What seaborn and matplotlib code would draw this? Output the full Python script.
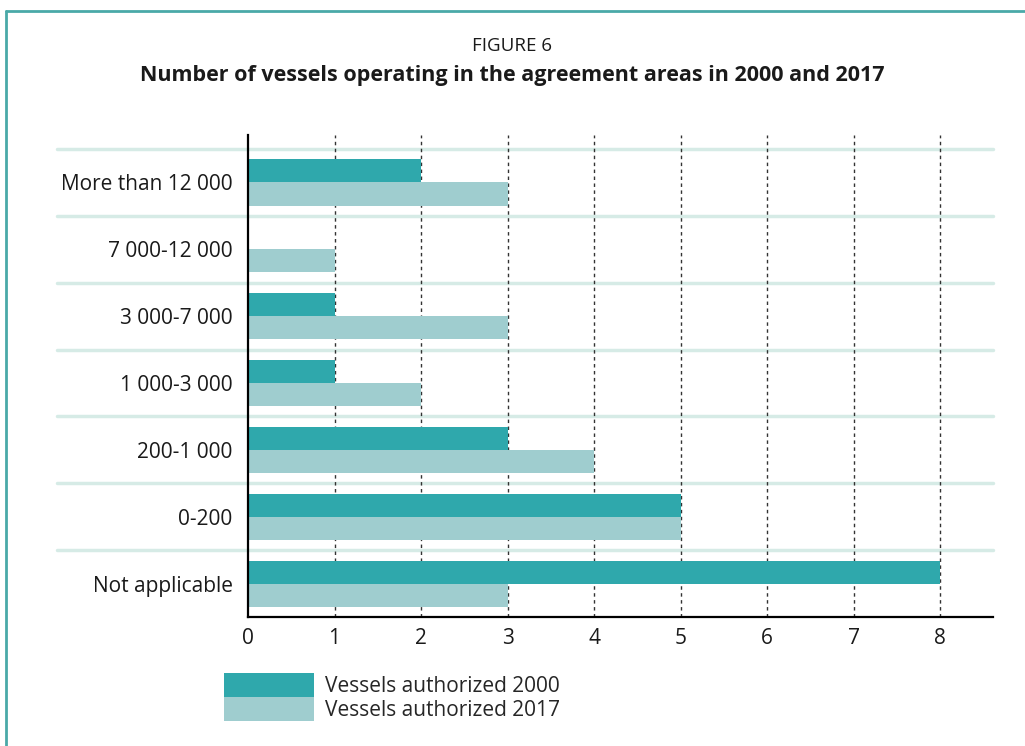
import matplotlib
matplotlib.use("Agg")
import matplotlib.pyplot as plt
from matplotlib.lines import Line2D
from matplotlib.patches import Patch
import seaborn as sns
import pandas as pd

sns.set_theme(style="white")
plt.rcParams["font.family"] = ["Open Sans", "DejaVu Sans"]

categories = ["More than 12 000", "7 000-12 000", "3 000-7 000", "1 000-3 000",
              "200-1 000", "0-200", "Not applicable"]
vessels_2000 = [2, 0, 1, 1, 3, 5, 8]
vessels_2017 = [3, 1, 3, 2, 4, 5, 3]
series_names = ["Vessels authorized 2000", "Vessels authorized 2017"]
x_ticks = [0, 1, 2, 3, 4, 5, 6, 7, 8]

dark_teal = "#2fa8ac"
light_teal = "#9fcdcf"
sep_color = "#d6ebe6"
text_color = "#1a1a1a"

df = pd.DataFrame({
    "category": categories * 2,
    "count": vessels_2000 + vessels_2017,
    "series": [series_names[0]] * len(categories) + [series_names[1]] * len(categories),
})

fig = plt.figure(figsize=(10.25, 7.46), dpi=100)
W, H = 1025, 746
ax = fig.add_axes([248 / W, 1 - 617 / H, (993 - 248) / W, (617 - 135) / H])

sns.barplot(data=df, y="category", x="count", hue="series", order=categories,
            hue_order=series_names, palette=[dark_teal, light_teal], saturation=1,
            width=0.69, orient="h", ax=ax, legend=False, zorder=3,
            linewidth=0, edgecolor="none")

ax.set_xlim(0, 8.61)
ax.set_ylim(6.5, -0.71)
ax.set_xticks(x_ticks)
ax.set_xticklabels([str(t) for t in x_ticks], fontsize=15, color=text_color)
ax.set_xlabel("")
ax.set_ylabel("")
ax.tick_params(axis="x", length=0, pad=8)
ax.tick_params(axis="y", length=0, pad=11)
for lab in ax.get_yticklabels():
    lab.set_fontsize(15)
    lab.set_color(text_color)

# dotted vertical gridlines
for t in x_ticks[1:]:
    ax.axvline(t, color="#333333", lw=1, ls=(0, (2.5, 2.5)), zorder=1)

# light separators between categories, extending into the label area
for i in range(len(categories)):
    ax.axhline(i - 0.5, xmin=-0.256, xmax=1, color=sep_color, lw=2.5,
               clip_on=False, zorder=0)

for side in ["top", "right"]:
    ax.spines[side].set_visible(False)
for side in ["left", "bottom"]:
    ax.spines[side].set_color("black")
    ax.spines[side].set_linewidth(1.6)
    ax.spines[side].set_zorder(5)

fig.text(0.5, 1 - 46 / H, "FIGURE 6", ha="center", va="center", fontsize=13.5,
         color=text_color)
fig.text(0.5, 1 - 75 / H, "Number of vessels operating in the agreement areas in 2000 and 2017",
         ha="center", va="center", fontsize=15.5, fontweight="bold", color=text_color)

handles = [Patch(facecolor=dark_teal, edgecolor="none"),
           Patch(facecolor=light_teal, edgecolor="none")]
fig.legend(handles, series_names, loc="upper left",
           bbox_to_anchor=(224 / W, 1 - 673 / H), frameon=False, fontsize=15,
           handlelength=4.3, handleheight=1.4, labelspacing=0.0,
           handletextpad=0.53, borderpad=0, borderaxespad=0)

# teal frame along the top and left edges
fig.add_artist(Line2D([6 / W, 1], [1 - 11 / H, 1 - 11 / H], color="#4aa9a8", lw=2,
                      transform=fig.transFigure))
fig.add_artist(Line2D([6 / W, 6 / W], [0, 1 - 11 / H], color="#4aa9a8", lw=2,
                      transform=fig.transFigure))

fig.savefig("out.png", dpi=100)
